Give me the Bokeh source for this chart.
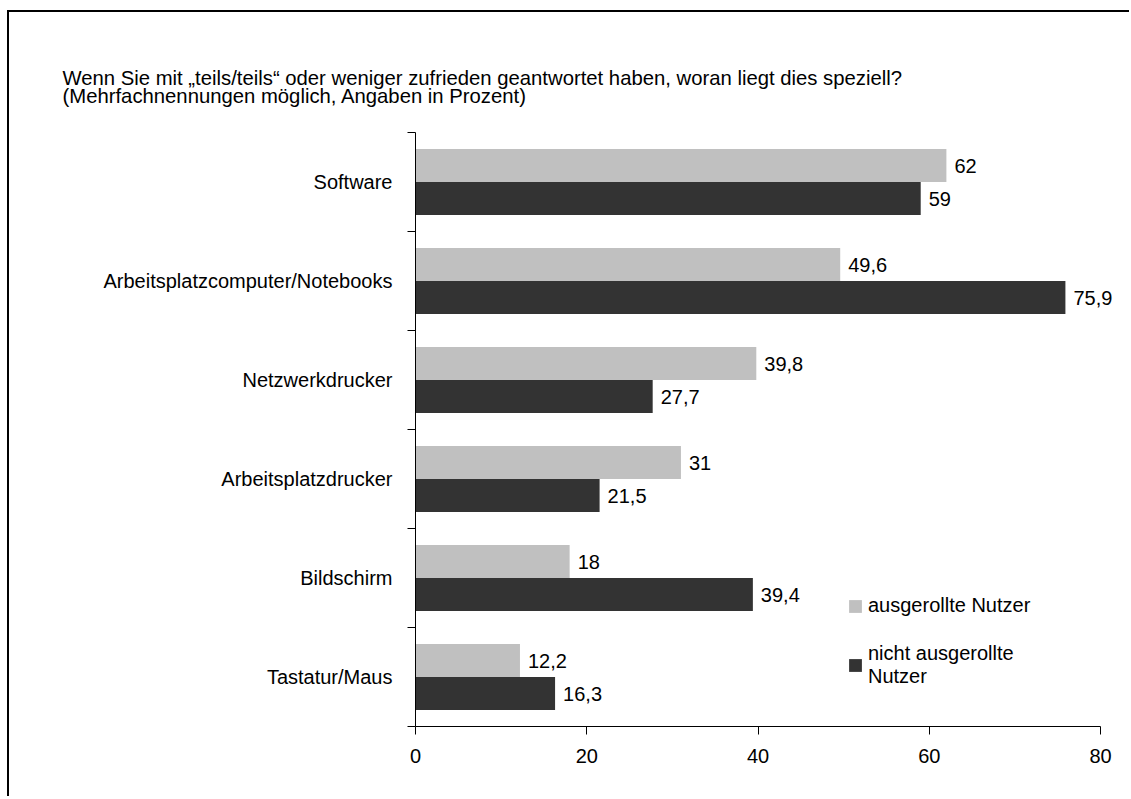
from bokeh.plotting import figure
from bokeh.models import ColumnDataSource, FixedTicker, Range1d
from bokeh.embed import file_html
from bokeh.resources import INLINE
from bokeh.core.properties import value

# Survey data (percent, multiple answers possible)
categories = [
    "Software",
    "Arbeitsplatzcomputer/Notebooks",
    "Netzwerkdrucker",
    "Arbeitsplatzdrucker",
    "Bildschirm",
    "Tastatur/Maus",
]
ausgerollt = [62, 49.6, 39.8, 31, 18, 12.2]
nicht_ausgerollt = [59, 75.9, 27.7, 21.5, 39.4, 16.3]
x_ticks = [0, 20, 40, 60, 80]
series_names = ["ausgerollte Nutzer", "nicht ausgerollte\nNutzer"]
title_text = (
    "Wenn Sie mit \u201eteils/teils\u201c oder weniger zufrieden geantwortet haben, woran liegt dies speziell?\n"
    "(Mehrfachnennungen m\u00f6glich, Angaben in Prozent)"
)

FONT = "Liberation Sans"
LIGHT = "#c0c0c0"
DARK = "#333333"
LABEL_SIZE = "20px"


def fmt(v):
    return f"{v:g}".replace(".", ",")


n = len(categories)
centers = [n - i - 0.5 for i in range(n)]
bar_h = 1 / 3

src_a = ColumnDataSource(dict(
    y=[c + bar_h / 2 for c in centers],
    x=ausgerollt,
    label=[fmt(v) for v in ausgerollt],
))
src_n = ColumnDataSource(dict(
    y=[c - bar_h / 2 for c in centers],
    x=nicht_ausgerollt,
    label=[fmt(v) for v in nicht_ausgerollt],
))

p = figure(
    width=1122, height=786,
    x_range=Range1d(0, 82.45), y_range=Range1d(0, n),
    output_backend="svg", toolbar_location=None,
    min_border_left=406, min_border_right=10,
    min_border_top=120, min_border_bottom=72,
)
p.styles = {
    "margin-left": "7px", "margin-top": "10px",
    "border-left": "2px solid #000", "border-top": "2px solid #000",
}
p.outline_line_color = None
p.grid.visible = False

# question text above the chart
p.title.text = title_text
p.title.align = "left"
p.title.offset = -353
p.title.standoff = 50
p.title.text_font = FONT
p.title.text_font_size = "20.3px"
p.title.text_font_style = "normal"
p.title.text_color = "#000"
p.title.text_line_height = 0.85

p.hbar(y="y", right="x", left=0, height=bar_h, source=src_a,
       fill_color=LIGHT, line_color=None, legend_label=series_names[0])
p.hbar(y="y", right="x", left=0, height=bar_h, source=src_n,
       fill_color=DARK, line_color=None, legend_label=series_names[1])

for src in (src_a, src_n):
    p.text(x="x", y="y", text="label", source=src, x_offset=8,
           text_baseline="middle", text_align="left",
           text_font=value(FONT), text_font_size=LABEL_SIZE, text_color="#000")

# x axis
xa = p.xaxis[0]
xa.ticker = FixedTicker(ticks=x_ticks)
xa.bounds = (0, 80)
xa.axis_line_color = "#000"
xa.major_tick_in = 0
xa.major_tick_out = 8
xa.minor_tick_line_color = None
xa.major_label_standoff = 14
xa.major_label_text_font = FONT
xa.major_label_text_font_size = LABEL_SIZE
xa.major_label_text_color = "#000"

# y axis: labels at category centres, ticks at category boundaries
ya = p.yaxis[0]
ya.ticker = FixedTicker(ticks=centers, minor_ticks=list(range(n + 1)))
ya.major_label_overrides = {c: name for c, name in zip(centers, categories)}
ya.major_tick_line_color = None
ya.major_tick_in = 0
ya.major_tick_out = 8
ya.minor_tick_in = 0
ya.minor_tick_out = 8
ya.minor_tick_line_color = "#000"
ya.axis_line_color = "#000"
ya.major_label_standoff = 15
ya.major_label_text_font = FONT
ya.major_label_text_font_size = LABEL_SIZE
ya.major_label_text_color = "#000"

lg = p.legend[0]
lg.location = (432, 38)
lg.border_line_color = None
lg.background_fill_alpha = 0
lg.padding = 0
lg.margin = 0
lg.spacing = 25
lg.glyph_width = 16
lg.glyph_height = 16
lg.label_standoff = 5
lg.label_text_font = FONT
lg.label_text_font_size = LABEL_SIZE
lg.label_text_color = "#000"

open("out.html", "w").write(file_html(p, INLINE))
